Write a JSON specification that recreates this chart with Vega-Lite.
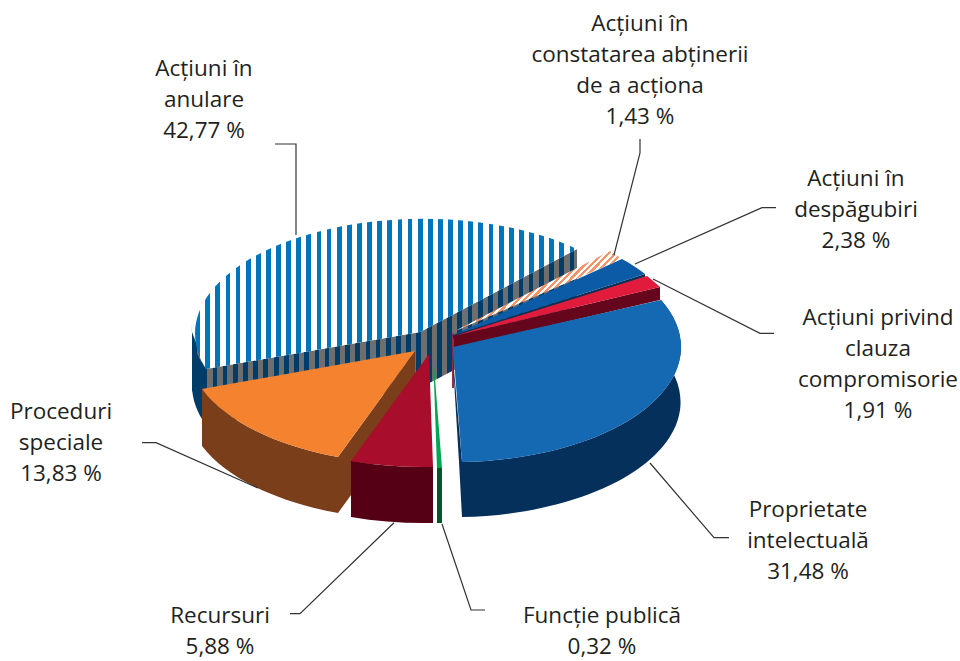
{"$schema":"https://vega.github.io/schema/vega-lite/v6.json","width":960,"height":661,"padding":0,"autosize":{"type":"fit","contains":"padding"},"background":"white","view":{"stroke":null},
"data":{"values":[
{"category":"anulare","share":42.77,"label":"Acțiuni în\nanulare\n42,77 %"},
{"category":"constatare","share":1.43,"label":"Acțiuni în\nconstatarea abținerii\nde a acționa\n1,43 %"},
{"category":"despagubiri","share":2.38,"label":"Acțiuni în\ndespăgubiri\n2,38 %"},
{"category":"clauza","share":1.91,"label":"Acțiuni privind\nclauza\ncompromisorie\n1,91 %"},
{"category":"proprietate","share":31.48,"label":"Proprietate\nintelectuală\n31,48 %"},
{"category":"speciale","share":13.83,"label":"Proceduri\nspeciale\n13,83 %"},
{"category":"functie","share":0.32,"label":"Funcție publică\n0,32 %"},
{"category":"recursuri","share":5.88,"label":"Recursuri\n5,88 %"}]},
"layer":[
{"transform":[{"filter":"datum.category==='anulare'"}],"mark":{"type":"point","filled":true,"opacity":1,"size":4,"strokeWidth":0,"shape":"M-288 1.5 L-288 59.5 L-274 94.5 L-60 57.5 L97 -25.5 L97 -81.5 L-60 1.5 L-274 38.5 Z","fill":{"gradient":"linear","x1":0,"y1":0,"x2":1,"y2":0,"stops":[
{"offset":0.0003,"color":"#6d6e70"},{"offset":0.0003,"color":"#003c68"},{"offset":0.0127,"color":"#003c68"},{"offset":0.0127,"color":"#6d6e70"},{"offset":0.0268,"color":"#6d6e70"},{"offset":0.0268,"color":"#003c68"},{"offset":0.0392,"color":"#003c68"},{"offset":0.0392,"color":"#6d6e70"},{"offset":0.0533,"color":"#6d6e70"},{"offset":0.0533,"color":"#003c68"},{"offset":0.0657,"color":"#003c68"},{"offset":0.0657,"color":"#6d6e70"},{"offset":0.0798,"color":"#6d6e70"},{"offset":0.0798,"color":"#003c68"},{"offset":0.0922,"color":"#003c68"},{"offset":0.0922,"color":"#6d6e70"},{"offset":0.1063,"color":"#6d6e70"},{"offset":0.1063,"color":"#003c68"},{"offset":0.1187,"color":"#003c68"},{"offset":0.1187,"color":"#6d6e70"},{"offset":0.1327,"color":"#6d6e70"},{"offset":0.1327,"color":"#003c68"},{"offset":0.1452,"color":"#003c68"},{"offset":0.1452,"color":"#6d6e70"},{"offset":0.1592,"color":"#6d6e70"},{"offset":0.1592,"color":"#003c68"},{"offset":0.1717,"color":"#003c68"},{"offset":0.1717,"color":"#6d6e70"},{"offset":0.1857,"color":"#6d6e70"},{"offset":0.1857,"color":"#003c68"},{"offset":0.1982,"color":"#003c68"},{"offset":0.1982,"color":"#6d6e70"},{"offset":0.2122,"color":"#6d6e70"},{"offset":0.2122,"color":"#003c68"},{"offset":0.2247,"color":"#003c68"},{"offset":0.2247,"color":"#6d6e70"},{"offset":0.2387,"color":"#6d6e70"},{"offset":0.2387,"color":"#003c68"},{"offset":0.2512,"color":"#003c68"},{"offset":0.2512,"color":"#6d6e70"},{"offset":0.2652,"color":"#6d6e70"},{"offset":0.2652,"color":"#003c68"},{"offset":0.2777,"color":"#003c68"},{"offset":0.2777,"color":"#6d6e70"},{"offset":0.2917,"color":"#6d6e70"},{"offset":0.2917,"color":"#003c68"},{"offset":0.3042,"color":"#003c68"},{"offset":0.3042,"color":"#6d6e70"},{"offset":0.3182,"color":"#6d6e70"},{"offset":0.3182,"color":"#003c68"},{"offset":0.3307,"color":"#003c68"},{"offset":0.3307,"color":"#6d6e70"},{"offset":0.3447,"color":"#6d6e70"},{"offset":0.3447,"color":"#003c68"},{"offset":0.3571,"color":"#003c68"},{"offset":0.3571,"color":"#6d6e70"},{"offset":0.3712,"color":"#6d6e70"},{"offset":0.3712,"color":"#003c68"},{"offset":0.3836,"color":"#003c68"},{"offset":0.3836,"color":"#6d6e70"},{"offset":0.3977,"color":"#6d6e70"},{"offset":0.3977,"color":"#003c68"},{"offset":0.4101,"color":"#003c68"},{"offset":0.4101,"color":"#6d6e70"},{"offset":0.4242,"color":"#6d6e70"},{"offset":0.4242,"color":"#003c68"},{"offset":0.4366,"color":"#003c68"},{"offset":0.4366,"color":"#6d6e70"},{"offset":0.4507,"color":"#6d6e70"},{"offset":0.4507,"color":"#003c68"},{"offset":0.4631,"color":"#003c68"},{"offset":0.4631,"color":"#6d6e70"},{"offset":0.4772,"color":"#6d6e70"},{"offset":0.4772,"color":"#003c68"},{"offset":0.4896,"color":"#003c68"},{"offset":0.4896,"color":"#6d6e70"},{"offset":0.5037,"color":"#6d6e70"},{"offset":0.5037,"color":"#003c68"},{"offset":0.5161,"color":"#003c68"},{"offset":0.5161,"color":"#6d6e70"},{"offset":0.5302,"color":"#6d6e70"},{"offset":0.5302,"color":"#003c68"},{"offset":0.5426,"color":"#003c68"},{"offset":0.5426,"color":"#6d6e70"},{"offset":0.5567,"color":"#6d6e70"},{"offset":0.5567,"color":"#003c68"},{"offset":0.5691,"color":"#003c68"},{"offset":0.5691,"color":"#6d6e70"},{"offset":0.5831,"color":"#6d6e70"},{"offset":0.5831,"color":"#003c68"},{"offset":0.5956,"color":"#003c68"},{"offset":0.5956,"color":"#6d6e70"},{"offset":0.6096,"color":"#6d6e70"},{"offset":0.6096,"color":"#003c68"},{"offset":0.6221,"color":"#003c68"},{"offset":0.6221,"color":"#6d6e70"},{"offset":0.6361,"color":"#6d6e70"},{"offset":0.6361,"color":"#003c68"},{"offset":0.6486,"color":"#003c68"},{"offset":0.6486,"color":"#6d6e70"},{"offset":0.6626,"color":"#6d6e70"},{"offset":0.6626,"color":"#003c68"},{"offset":0.6751,"color":"#003c68"},{"offset":0.6751,"color":"#6d6e70"},{"offset":0.6891,"color":"#6d6e70"},{"offset":0.6891,"color":"#003c68"},{"offset":0.7016,"color":"#003c68"},{"offset":0.7016,"color":"#6d6e70"},{"offset":0.7156,"color":"#6d6e70"},{"offset":0.7156,"color":"#003c68"},{"offset":0.7281,"color":"#003c68"},{"offset":0.7281,"color":"#6d6e70"},{"offset":0.7421,"color":"#6d6e70"},{"offset":0.7421,"color":"#003c68"},{"offset":0.7546,"color":"#003c68"},{"offset":0.7546,"color":"#6d6e70"},{"offset":0.7686,"color":"#6d6e70"},{"offset":0.7686,"color":"#003c68"},{"offset":0.7811,"color":"#003c68"},{"offset":0.7811,"color":"#6d6e70"},{"offset":0.7951,"color":"#6d6e70"},{"offset":0.7951,"color":"#003c68"},{"offset":0.8076,"color":"#003c68"},{"offset":0.8076,"color":"#6d6e70"},{"offset":0.8216,"color":"#6d6e70"},{"offset":0.8216,"color":"#003c68"},{"offset":0.834,"color":"#003c68"},{"offset":0.834,"color":"#6d6e70"},{"offset":0.8481,"color":"#6d6e70"},{"offset":0.8481,"color":"#003c68"},{"offset":0.8605,"color":"#003c68"},{"offset":0.8605,"color":"#6d6e70"},{"offset":0.8746,"color":"#6d6e70"},{"offset":0.8746,"color":"#003c68"},{"offset":0.887,"color":"#003c68"},{"offset":0.887,"color":"#6d6e70"},{"offset":0.9011,"color":"#6d6e70"},{"offset":0.9011,"color":"#003c68"},{"offset":0.9135,"color":"#003c68"},{"offset":0.9135,"color":"#6d6e70"},{"offset":0.9276,"color":"#6d6e70"},{"offset":0.9276,"color":"#003c68"},{"offset":0.94,"color":"#003c68"},{"offset":0.94,"color":"#6d6e70"},{"offset":0.9541,"color":"#6d6e70"},{"offset":0.9541,"color":"#003c68"},{"offset":0.9665,"color":"#003c68"},{"offset":0.9665,"color":"#6d6e70"},{"offset":0.9806,"color":"#6d6e70"},{"offset":0.9806,"color":"#003c68"},{"offset":0.993,"color":"#003c68"},{"offset":0.993,"color":"#6d6e70"}]}},"encoding":{}},
{"transform":[{"filter":"datum.category==='anulare'"}],"mark":{"type":"point","filled":true,"opacity":1,"size":4,"strokeWidth":0,"fill":"#003c68","shape":"M-288 -5.5 L-288 56 A228 115 0 0 0 -274 94.5 L-274 38.5 A228 115 0 0 1 -288 -5.5 Z"},"encoding":{}},
{"transform":[{"filter":"datum.category!=='anulare'"}],"mark":{"type":"point","filled":true,"opacity":1,"size":4,"strokeWidth":0},"encoding":{
"shape":{"field":"category","type":"nominal","legend":null,"scale":{"domain":["constatare","despagubiri","clauza","proprietate","functie","recursuri","speciale"],"range":[
"M-28 3 L-26 3 L-26 57.5 L-28 57.5 Z",
"M-27 4.5 L165 -56.5 L165 -53.5 L-27 8 Z",
"M180 -43.5 L180 -30.5 L-26 17.5 L-26 5.5 Z",
"M181 -30.5 A228 115 0 0 1 -18 131.5 L-18 186.5 A228 115 0 0 0 181 25 Z M-28 16.5 L-21 131.5 L-18 186.5 L-18 131.5 Z",
"M-43 137.5 L-38 137.5 L-38 192.5 L-43 192.5 Z",
"M-129 130.5 A228 115 0 0 0 -47 136.5 L-47 192.5 A228 115 0 0 1 -129 186.5 Z",
"M-278 58.5 A228 115 0 0 0 -142 126.5 L-142 182.5 A228 115 0 0 1 -278 115.5 Z M-65 20.5 L-65 76.5 L-142 182.5 L-142 126.5 Z"]}},
"fill":{"field":"category","type":"nominal","legend":null,"scale":{"domain":["constatare","despagubiri","clauza","proprietate","functie","recursuri","speciale"],"range":["#9b2a45","#0b2f55","#65061c","#06305c","#00562b","#550015","#7a3e1a"]}}}},
{"transform":[{"filter":"datum.category==='anulare'"}],"mark":{"type":"point","filled":true,"opacity":1,"size":4,"strokeWidth":0,"shape":"M-60 1.5 L-274 38.5 A228 115 0 0 1 97 -81.5 Z","fill":{"gradient":"linear","x1":0,"y1":0,"x2":1,"y2":0,"stops":[
{"offset":0.0003,"color":"#ffffff"},{"offset":0.0003,"color":"#0075bc"},{"offset":0.0127,"color":"#0075bc"},{"offset":0.0127,"color":"#ffffff"},{"offset":0.0268,"color":"#ffffff"},{"offset":0.0268,"color":"#0075bc"},{"offset":0.0392,"color":"#0075bc"},{"offset":0.0392,"color":"#ffffff"},{"offset":0.0533,"color":"#ffffff"},{"offset":0.0533,"color":"#0075bc"},{"offset":0.0657,"color":"#0075bc"},{"offset":0.0657,"color":"#ffffff"},{"offset":0.0798,"color":"#ffffff"},{"offset":0.0798,"color":"#0075bc"},{"offset":0.0922,"color":"#0075bc"},{"offset":0.0922,"color":"#ffffff"},{"offset":0.1063,"color":"#ffffff"},{"offset":0.1063,"color":"#0075bc"},{"offset":0.1187,"color":"#0075bc"},{"offset":0.1187,"color":"#ffffff"},{"offset":0.1327,"color":"#ffffff"},{"offset":0.1327,"color":"#0075bc"},{"offset":0.1452,"color":"#0075bc"},{"offset":0.1452,"color":"#ffffff"},{"offset":0.1592,"color":"#ffffff"},{"offset":0.1592,"color":"#0075bc"},{"offset":0.1717,"color":"#0075bc"},{"offset":0.1717,"color":"#ffffff"},{"offset":0.1857,"color":"#ffffff"},{"offset":0.1857,"color":"#0075bc"},{"offset":0.1982,"color":"#0075bc"},{"offset":0.1982,"color":"#ffffff"},{"offset":0.2122,"color":"#ffffff"},{"offset":0.2122,"color":"#0075bc"},{"offset":0.2247,"color":"#0075bc"},{"offset":0.2247,"color":"#ffffff"},{"offset":0.2387,"color":"#ffffff"},{"offset":0.2387,"color":"#0075bc"},{"offset":0.2512,"color":"#0075bc"},{"offset":0.2512,"color":"#ffffff"},{"offset":0.2652,"color":"#ffffff"},{"offset":0.2652,"color":"#0075bc"},{"offset":0.2777,"color":"#0075bc"},{"offset":0.2777,"color":"#ffffff"},{"offset":0.2917,"color":"#ffffff"},{"offset":0.2917,"color":"#0075bc"},{"offset":0.3042,"color":"#0075bc"},{"offset":0.3042,"color":"#ffffff"},{"offset":0.3182,"color":"#ffffff"},{"offset":0.3182,"color":"#0075bc"},{"offset":0.3307,"color":"#0075bc"},{"offset":0.3307,"color":"#ffffff"},{"offset":0.3447,"color":"#ffffff"},{"offset":0.3447,"color":"#0075bc"},{"offset":0.3571,"color":"#0075bc"},{"offset":0.3571,"color":"#ffffff"},{"offset":0.3712,"color":"#ffffff"},{"offset":0.3712,"color":"#0075bc"},{"offset":0.3836,"color":"#0075bc"},{"offset":0.3836,"color":"#ffffff"},{"offset":0.3977,"color":"#ffffff"},{"offset":0.3977,"color":"#0075bc"},{"offset":0.4101,"color":"#0075bc"},{"offset":0.4101,"color":"#ffffff"},{"offset":0.4242,"color":"#ffffff"},{"offset":0.4242,"color":"#0075bc"},{"offset":0.4366,"color":"#0075bc"},{"offset":0.4366,"color":"#ffffff"},{"offset":0.4507,"color":"#ffffff"},{"offset":0.4507,"color":"#0075bc"},{"offset":0.4631,"color":"#0075bc"},{"offset":0.4631,"color":"#ffffff"},{"offset":0.4772,"color":"#ffffff"},{"offset":0.4772,"color":"#0075bc"},{"offset":0.4896,"color":"#0075bc"},{"offset":0.4896,"color":"#ffffff"},{"offset":0.5037,"color":"#ffffff"},{"offset":0.5037,"color":"#0075bc"},{"offset":0.5161,"color":"#0075bc"},{"offset":0.5161,"color":"#ffffff"},{"offset":0.5302,"color":"#ffffff"},{"offset":0.5302,"color":"#0075bc"},{"offset":0.5426,"color":"#0075bc"},{"offset":0.5426,"color":"#ffffff"},{"offset":0.5567,"color":"#ffffff"},{"offset":0.5567,"color":"#0075bc"},{"offset":0.5691,"color":"#0075bc"},{"offset":0.5691,"color":"#ffffff"},{"offset":0.5831,"color":"#ffffff"},{"offset":0.5831,"color":"#0075bc"},{"offset":0.5956,"color":"#0075bc"},{"offset":0.5956,"color":"#ffffff"},{"offset":0.6096,"color":"#ffffff"},{"offset":0.6096,"color":"#0075bc"},{"offset":0.6221,"color":"#0075bc"},{"offset":0.6221,"color":"#ffffff"},{"offset":0.6361,"color":"#ffffff"},{"offset":0.6361,"color":"#0075bc"},{"offset":0.6486,"color":"#0075bc"},{"offset":0.6486,"color":"#ffffff"},{"offset":0.6626,"color":"#ffffff"},{"offset":0.6626,"color":"#0075bc"},{"offset":0.6751,"color":"#0075bc"},{"offset":0.6751,"color":"#ffffff"},{"offset":0.6891,"color":"#ffffff"},{"offset":0.6891,"color":"#0075bc"},{"offset":0.7016,"color":"#0075bc"},{"offset":0.7016,"color":"#ffffff"},{"offset":0.7156,"color":"#ffffff"},{"offset":0.7156,"color":"#0075bc"},{"offset":0.7281,"color":"#0075bc"},{"offset":0.7281,"color":"#ffffff"},{"offset":0.7421,"color":"#ffffff"},{"offset":0.7421,"color":"#0075bc"},{"offset":0.7546,"color":"#0075bc"},{"offset":0.7546,"color":"#ffffff"},{"offset":0.7686,"color":"#ffffff"},{"offset":0.7686,"color":"#0075bc"},{"offset":0.7811,"color":"#0075bc"},{"offset":0.7811,"color":"#ffffff"},{"offset":0.7951,"color":"#ffffff"},{"offset":0.7951,"color":"#0075bc"},{"offset":0.8076,"color":"#0075bc"},{"offset":0.8076,"color":"#ffffff"},{"offset":0.8216,"color":"#ffffff"},{"offset":0.8216,"color":"#0075bc"},{"offset":0.834,"color":"#0075bc"},{"offset":0.834,"color":"#ffffff"},{"offset":0.8481,"color":"#ffffff"},{"offset":0.8481,"color":"#0075bc"},{"offset":0.8605,"color":"#0075bc"},{"offset":0.8605,"color":"#ffffff"},{"offset":0.8746,"color":"#ffffff"},{"offset":0.8746,"color":"#0075bc"},{"offset":0.887,"color":"#0075bc"},{"offset":0.887,"color":"#ffffff"},{"offset":0.9011,"color":"#ffffff"},{"offset":0.9011,"color":"#0075bc"},{"offset":0.9135,"color":"#0075bc"},{"offset":0.9135,"color":"#ffffff"},{"offset":0.9276,"color":"#ffffff"},{"offset":0.9276,"color":"#0075bc"},{"offset":0.94,"color":"#0075bc"},{"offset":0.94,"color":"#ffffff"},{"offset":0.9541,"color":"#ffffff"},{"offset":0.9541,"color":"#0075bc"},{"offset":0.9665,"color":"#0075bc"},{"offset":0.9665,"color":"#ffffff"},{"offset":0.9806,"color":"#ffffff"},{"offset":0.9806,"color":"#0075bc"},{"offset":0.993,"color":"#0075bc"},{"offset":0.993,"color":"#ffffff"}]}},"encoding":{}},
{"transform":[{"filter":"datum.category==='constatare'"}],"mark":{"type":"point","filled":true,"opacity":1,"size":4,"strokeWidth":0,"shape":"M-27 1.5 L130 -79.5 A228 115 0 0 1 142 -71.5 Z","fill":{"gradient":"linear","x1":0,"y1":0,"x2":1,"y2":0.47,"stops":[
{"offset":0.35,"color":"#ffffff"},{"offset":0.35,"color":"#f4946a"},{"offset":0.366,"color":"#f4946a"},{"offset":0.366,"color":"#ffffff"},{"offset":0.3814,"color":"#ffffff"},{"offset":0.3814,"color":"#f4946a"},{"offset":0.3974,"color":"#f4946a"},{"offset":0.3974,"color":"#ffffff"},{"offset":0.4128,"color":"#ffffff"},{"offset":0.4128,"color":"#f4946a"},{"offset":0.4288,"color":"#f4946a"},{"offset":0.4288,"color":"#ffffff"},{"offset":0.4442,"color":"#ffffff"},{"offset":0.4442,"color":"#f4946a"},{"offset":0.4602,"color":"#f4946a"},{"offset":0.4602,"color":"#ffffff"},{"offset":0.4756,"color":"#ffffff"},{"offset":0.4756,"color":"#f4946a"},{"offset":0.4916,"color":"#f4946a"},{"offset":0.4916,"color":"#ffffff"},{"offset":0.507,"color":"#ffffff"},{"offset":0.507,"color":"#f4946a"},{"offset":0.523,"color":"#f4946a"},{"offset":0.523,"color":"#ffffff"},{"offset":0.5384,"color":"#ffffff"},{"offset":0.5384,"color":"#f4946a"},{"offset":0.5544,"color":"#f4946a"},{"offset":0.5544,"color":"#ffffff"},{"offset":0.5698,"color":"#ffffff"},{"offset":0.5698,"color":"#f4946a"},{"offset":0.5858,"color":"#f4946a"},{"offset":0.5858,"color":"#ffffff"},{"offset":0.6012,"color":"#ffffff"},{"offset":0.6012,"color":"#f4946a"},{"offset":0.6172,"color":"#f4946a"},{"offset":0.6172,"color":"#ffffff"},{"offset":0.6326,"color":"#ffffff"},{"offset":0.6326,"color":"#f4946a"},{"offset":0.6486,"color":"#f4946a"},{"offset":0.6486,"color":"#ffffff"},{"offset":0.664,"color":"#ffffff"},{"offset":0.664,"color":"#f4946a"},{"offset":0.68,"color":"#f4946a"},{"offset":0.68,"color":"#ffffff"},{"offset":0.6954,"color":"#ffffff"},{"offset":0.6954,"color":"#f4946a"},{"offset":0.7114,"color":"#f4946a"},{"offset":0.7114,"color":"#ffffff"},{"offset":0.7268,"color":"#ffffff"},{"offset":0.7268,"color":"#f4946a"},{"offset":0.7428,"color":"#f4946a"},{"offset":0.7428,"color":"#ffffff"},{"offset":0.7582,"color":"#ffffff"},{"offset":0.7582,"color":"#f4946a"},{"offset":0.7742,"color":"#f4946a"},{"offset":0.7742,"color":"#ffffff"},{"offset":0.7896,"color":"#ffffff"},{"offset":0.7896,"color":"#f4946a"},{"offset":0.8056,"color":"#f4946a"},{"offset":0.8056,"color":"#ffffff"},{"offset":0.821,"color":"#ffffff"},{"offset":0.821,"color":"#f4946a"},{"offset":0.837,"color":"#f4946a"},{"offset":0.837,"color":"#ffffff"},{"offset":0.8524,"color":"#ffffff"},{"offset":0.8524,"color":"#f4946a"},{"offset":0.8684,"color":"#f4946a"},{"offset":0.8684,"color":"#ffffff"},{"offset":0.8838,"color":"#ffffff"},{"offset":0.8838,"color":"#f4946a"},{"offset":0.8998,"color":"#f4946a"},{"offset":0.8998,"color":"#ffffff"}]}},"encoding":{}},
{"transform":[{"filter":"datum.category!=='anulare' && datum.category!=='constatare'"}],"mark":{"type":"point","filled":true,"opacity":1,"size":4,"strokeWidth":0},"encoding":{
"shape":{"field":"category","type":"nominal","legend":null,"scale":{"domain":["despagubiri","clauza","proprietate","functie","recursuri","speciale"],"range":[
"M-27 4.5 L142 -71.5 A228 115 0 0 1 165 -56.5 Z",
"M-26 5.5 L167 -54.5 A228 115 0 0 1 180 -43.5 Z",
"M-27 16.5 L181 -30.5 A228 115 0 0 1 -18 131.5 Z",
"M-47 22.5 L-43 137.5 L-38 137.5 Z",
"M-51 23.5 L-129 130.5 A228 115 0 0 0 -47 136.5 Z",
"M-65 20.5 L-278 58.5 A228 115 0 0 0 -142 126.5 Z"]}},
"fill":{"field":"category","type":"nominal","legend":null,"scale":{"domain":["despagubiri","clauza","proprietate","functie","recursuri","speciale"],"range":["#0b5ba6","#e01b3c","#1569b3","#00a651","#a80d2b","#f5822e"]}}}},
{"mark":{"type":"point","filled":false,"opacity":1,"size":4,"stroke":"#333333","strokeWidth":1.2},"encoding":{
"shape":{"field":"category","type":"nominal","legend":null,"scale":{"domain":["anulare","constatare","despagubiri","clauza","proprietate","functie","recursuri","speciale"],"range":[
"M-205 -186.5 L-184 -186.5 L-184 -95.5",
"M160 -191.5 L160 -177.5 L134 -75.5",
"M296 -122.8 L282 -122.8 L155 -66.5",
"M294 2.8 L280 2.8 L173 -51.5",
"M249 207.2 L234 207.2 L170 132.5",
"M5 279.5 L-9 279.5 L-38 193.5",
"M-190 283.2 L-180 283.2 L-86 192.2",
"M-338 112.2 L-324 112.2 L-222 157.5"]}}}},
{"mark":{"type":"text","font":"Open Sans","fontSize":22.5,"lineHeight":31,"lineBreak":"\n","align":"center","baseline":"top","color":"#231f20"},"encoding":{
"text":{"field":"label","type":"nominal"},
"x":{"field":"share","type":"quantitative","axis":null,"scale":{"type":"linear","zero":false,"nice":false,"domain":[0.32,1.43,1.91,2.38,5.88,13.83,31.48,42.77],"range":[602,640,878,856,220,61,808,204]}},
"y":{"field":"share","type":"quantitative","axis":null,"scale":{"type":"linear","zero":false,"nice":false,"domain":[0.32,1.43,1.91,2.38,5.88,13.83,31.48,42.77],"range":[605,13,307,168,605,401,499,58]}}}}
],
"resolve":{"scale":{"shape":"independent","fill":"independent"}}}
